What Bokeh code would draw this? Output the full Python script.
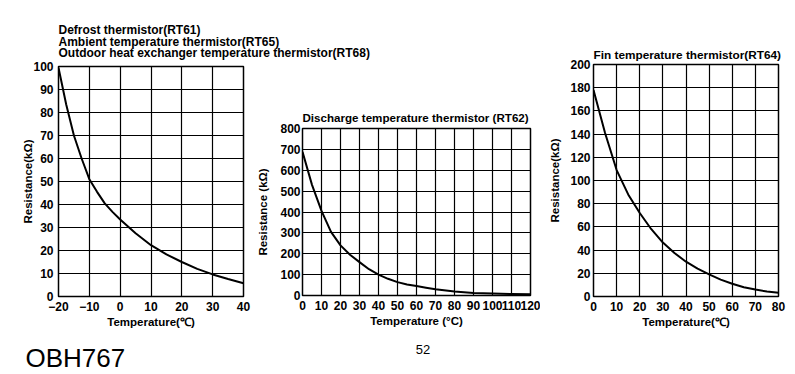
from bokeh.plotting import figure
from bokeh.layouts import row, column
from bokeh.models import Range1d, FixedTicker, Label
from bokeh.embed import file_html
from bokeh.resources import INLINE

# ---------------- data ----------------
# Defrost / Ambient / Outdoor heat exchanger thermistors (RT61, RT65, RT68)
rt61_temp = [-20, -17.5, -15, -12.5, -10, -7.5, -5, -2.5, 0, 5, 10, 15, 20, 25, 30, 35, 40]
rt61_res = [99.5, 83.5, 70, 60, 51, 45.5, 40.5, 36.8, 33.5, 27.5, 22.3, 18.3, 15, 12, 9.6, 7.6, 5.8]
rt61_xticks = [-20, -10, 0, 10, 20, 30, 40]
rt61_yticks = [0, 10, 20, 30, 40, 50, 60, 70, 80, 90, 100]

# Discharge temperature thermistor (RT62)
rt62_temp = [0, 5, 10, 15, 20, 25, 30, 35, 40, 45, 50, 55, 60, 65, 70, 80, 90, 100, 110, 120]
rt62_res = [688, 530, 405, 305, 240, 195, 160, 126, 100, 80, 64, 53, 45, 37, 30, 19, 12.5, 9, 7, 6]
rt62_xticks = [0, 10, 20, 30, 40, 50, 60, 70, 80, 90, 100, 110, 120]
rt62_yticks = [0, 100, 200, 300, 400, 500, 600, 700, 800]

# Fin temperature thermistor (RT64)
rt64_temp = [0, 5, 10, 15, 20, 25, 30, 35, 40, 45, 50, 55, 60, 65, 70, 75, 80]
rt64_res = [178, 141, 109, 88, 72, 58, 46.5, 37.5, 30, 24, 19, 14.5, 11, 8, 6, 4.3, 3.2]
rt64_xticks = [0, 10, 20, 30, 40, 50, 60, 70, 80]
rt64_yticks = [0, 20, 40, 60, 80, 100, 120, 140, 160, 180, 200]

left_titles = [
    "Defrost thermistor(RT61)",
    "Ambient temperature thermistor(RT65)",
    "Outdoor heat exchanger temperature thermistor(RT68)",
]
mid_title = "Discharge temperature thermistor (RT62)"
right_title = "Fin temperature thermistor(RT64)"
doc_code = "OBH767"
page_no = "52"

FONT = "Liberation Sans"
NARROW = "Liberation Sans Narrow, Liberation Sans"


def chart(width, height, b_left, b_right, b_top, b_bottom, xr, yr, xticks, yticks,
          temps, res, xlabel, ylabel, title=None, title_size="11.6px", title_standoff=4,
          ylab_standoff=2, ytick_standoff=4, xtick_font=FONT, xtick_size="12px"):
    p = figure(width=width, height=height, x_range=Range1d(*xr), y_range=Range1d(*yr),
               output_backend="svg", toolbar_location=None,
               min_border_left=b_left, min_border_right=b_right,
               min_border_top=b_top, min_border_bottom=b_bottom)
    p.line(temps, res, line_color="black", line_width=2, line_join="round")
    p.xaxis.ticker = FixedTicker(ticks=xticks)
    p.yaxis.ticker = FixedTicker(ticks=yticks)
    for ax in (p.xaxis[0], p.yaxis[0]):
        ax.axis_line_color = None
        ax.major_tick_in = 0
        ax.major_tick_out = 0
        ax.minor_tick_in = 0
        ax.minor_tick_out = 0
        ax.major_label_text_font = FONT
        ax.major_label_text_font_style = "bold"
        ax.major_label_text_font_size = "12px"
        ax.major_label_text_color = "black"
        ax.axis_label_text_font = FONT
        ax.axis_label_text_font_style = "bold"
        ax.axis_label_text_font_size = "11.5px"
        ax.axis_label_text_color = "black"
    p.xaxis.major_label_text_font = xtick_font
    p.xaxis.major_label_text_font_size = xtick_size
    p.xaxis.axis_label = xlabel
    p.yaxis.axis_label = ylabel
    p.xaxis.major_label_standoff = 5
    p.xaxis.axis_label_standoff = 2
    p.yaxis.major_label_standoff = ytick_standoff
    p.yaxis.axis_label_standoff = ylab_standoff
    p.xgrid.grid_line_color = "black"
    p.ygrid.grid_line_color = "black"
    p.xgrid.grid_line_width = 1.2
    p.ygrid.grid_line_width = 1.2
    p.outline_line_color = "black"
    p.outline_line_width = 1.5
    p.background_fill_color = "white"
    p.border_fill_color = "white"
    if title:
        p.title.text = title
        p.title.align = "left"
        p.title.text_font = FONT
        p.title.text_font_style = "bold"
        p.title.text_font_size = title_size
        p.title.text_color = "black"
        p.title.standoff = title_standoff
    return p


def band(width, height, x0, y0):
    p = figure(width=width, height=height, x_range=Range1d(x0, x0 + width),
               y_range=Range1d(y0 + height, y0), x_axis_type=None, y_axis_type=None,
               output_backend="svg", toolbar_location=None, min_border=0)
    p.grid.visible = False
    p.outline_line_color = None
    p.background_fill_color = "white"
    p.border_fill_color = "white"
    return p


# top band with the three titles of the left chart
top = band(540, 60, 0, 0)
for i, t in enumerate(left_titles):
    top.add_layout(Label(x=58, y=29.8 + i * 11.3, text=t, text_baseline="middle",
                         text_font=FONT, text_font_style="bold",
                         text_font_size="12px", text_color="black"))

f1 = chart(254, 276, 58, 11, 6, 40, (-20, 40), (0, 100), rt61_xticks, rt61_yticks,
           rt61_temp, rt61_res, "Temperature(\u2103)", "Resistance(k\u03a9)",
           ylab_standoff=-4, ytick_standoff=5)
f2 = chart(286, 276, 46, 10, 68, 41, (0, 120), (0, 800), rt62_xticks, rt62_yticks,
           rt62_temp, rt62_res, "Temperature (\u00b0C)", "Resistance (k\u03a9)",
           title=mid_title, title_standoff=9, ylab_standoff=8, ytick_standoff=2,
           xtick_font=NARROW, xtick_size="12px")
f3 = chart(255, 374, 53, 17, 64, 78, (0, 80), (0, 200), rt64_xticks, rt64_yticks,
           rt64_temp, rt64_res, "Temperature(\u2103)", "Resistance(k\u03a9)",
           title=right_title, title_size="11.8px", title_standoff=5,
           ylab_standoff=6, ytick_standoff=3)

bottom = band(540, 38, 0, 336)
bottom.add_layout(Label(x=25, y=357, text=doc_code, text_baseline="alphabetic",
                        text_font=FONT, text_font_size="26px", text_color="black"))
bottom.add_layout(Label(x=422.5, y=349, text=page_no, text_baseline="alphabetic",
                        text_align="center", text_font=FONT, text_font_size="13px",
                        text_color="black"))

layout = row(column(top, row(column(f1), column(f2)), bottom), f3)

open("out.html", "w").write(file_html(layout, INLINE))
